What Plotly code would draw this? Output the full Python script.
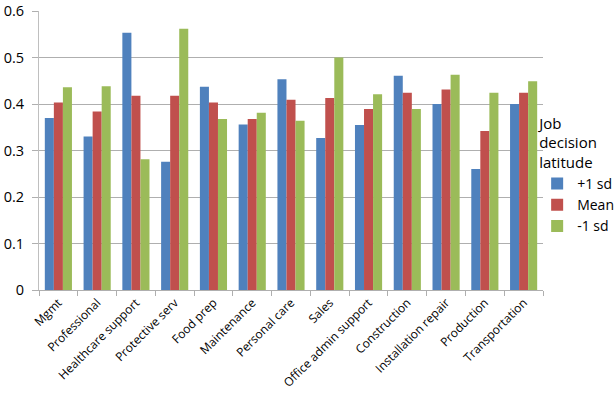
import plotly.graph_objects as go

categories = ["Mgmt", "Professional", "Healthcare support", "Protective serv", "Food prep",
              "Maintenance", "Personal care", "Sales", "Office admin support", "Construction",
              "Installation repair", "Production", "Transportation"]
plus1sd = [0.370, 0.330, 0.553, 0.276, 0.437, 0.356, 0.453, 0.327, 0.355, 0.461, 0.400, 0.260, 0.400]
mean = [0.403, 0.384, 0.418, 0.418, 0.403, 0.368, 0.409, 0.413, 0.389, 0.424, 0.431, 0.342, 0.424]
minus1sd = [0.436, 0.438, 0.281, 0.562, 0.368, 0.381, 0.364, 0.500, 0.421, 0.389, 0.463, 0.424, 0.449]
series_names = ["+1 sd", "Mean", "-1 sd"]
colors = ["#4F81BD", "#C0504D", "#9BBB59"]
y_ticks = [0, 0.1, 0.2, 0.3, 0.4, 0.5, 0.6]

FONT = "Open Sans, Liberation Sans, sans-serif"

fig = go.Figure()
for name, vals, c in zip(series_names, [plus1sd, mean, minus1sd], colors):
    fig.add_trace(go.Bar(x=categories, y=vals, name=name, marker=dict(color=c, line=dict(width=0))))

fig.update_layout(
    width=616, height=409,
    margin=dict(l=39, r=73, t=11, b=119, autoexpand=False),
    paper_bgcolor="white", plot_bgcolor="white",
    barmode="group", bargap=0.3, bargroupgap=0,
    font=dict(family=FONT, size=13, color="#000000"),
    legend=dict(
        title=dict(text="Job<br>decision<br>latitude", font=dict(size=15, family=FONT)),
        xref="container", x=0.872, y=0.647, xanchor="left", yanchor="top",
        font=dict(size=14, family=FONT),
        itemwidth=30, bgcolor="rgba(0,0,0,0)", borderwidth=0,
    ),
    showlegend=True,
)
fig.update_yaxes(
    range=[0, 0.6], tickvals=y_ticks, ticktext=[f"{v:g}" for v in y_ticks],
    showgrid=True, gridcolor="#AFAFAF", gridwidth=1,
    showline=True, linecolor="#BFBFBF", linewidth=1,
    ticks="outside", ticklen=6, tickcolor="#AFAFAF",
    tickfont=dict(size=14.5, family=FONT), zeroline=False,
    ticklabelstandoff=5,
)
fig.update_xaxes(
    showline=True, linecolor="#AFAFAF", linewidth=1,
    ticks="outside", ticklen=5, tickcolor="#AFAFAF", tickson="boundaries",
    tickangle=-45, tickfont=dict(size=12, family=FONT),
)
fig.write_html("out.html", config={"displayModeBar": False},
               post_script="document.body.style.margin='0';document.body.style.overflow='hidden';")
